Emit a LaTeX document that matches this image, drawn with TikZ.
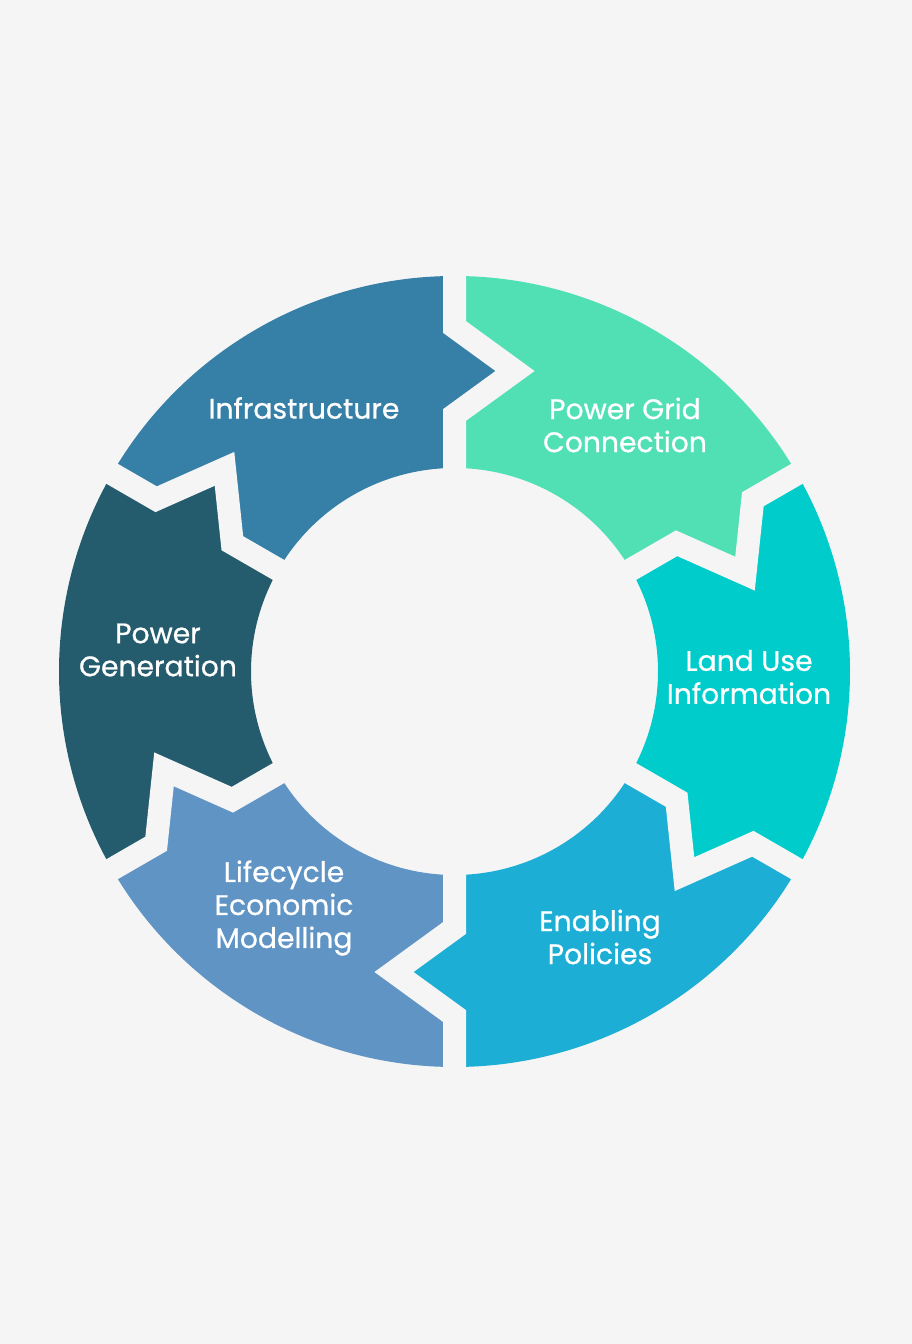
\documentclass[tikz,border=0pt]{standalone}
\usepackage{fontspec}
\setmainfont{Poppins}
\newfontfamily\lblfont{Poppins}[FakeBold=0.7]
\usetikzlibrary{calc}
\definecolor{bg}{HTML}{F5F5F5}
\definecolor{cInfra}{HTML}{367FA6}
\definecolor{cGrid}{HTML}{50E0B4}
\definecolor{cLand}{HTML}{00CCCC}
\definecolor{cEnab}{HTML}{1CAED4}
\definecolor{cLife}{HTML}{5F94C4}
\definecolor{cPGen}{HTML}{245C6E}
\tikzset{
  gap/.style={draw=bg, line width=23pt, line join=miter},
  lbl/.style={text=white, align=center, font=\lblfont\fontsize{28.2}{33}\selectfont, inner sep=0pt}
}
\newcommand\Ro{395.5}
\newcommand\Ri{203.5}
\newcommand\segpath[5]{% start name, end name, start angle, end angle, colour
  \fill[#5] (#1o) arc[start angle=#3, end angle=#4, radius=\Ro]
    -- (#2s) -- (#2t) -- (#2e) -- (#2i)
    arc[start angle=#4, end angle=#3, radius=\Ri]
    -- (#1e) -- (#1t) -- (#1s) -- cycle;}
\begin{document}
\begin{tikzpicture}[x=1pt,y=1pt]
\fill[bg] (0,0) rectangle (912,1344);
\useasboundingbox (0,0) rectangle (912,1344);
\coordinate (C) at (454.5,672.5);
\foreach \a/\n in {90/a,30/b,-30/c,-90/d,-150/e,150/f}{
  \coordinate (\n o) at ($(C)+(\a:\Ro)$);
  \coordinate (\n O) at ($(C)+(\a:\Ro+8)$);
  \coordinate (\n s) at ($(C)+(\a:344.5)$);
  \coordinate (\n t) at ($(C)+(\a:300.5)+(\a-90:60.5)$);
  \coordinate (\n e) at ($(C)+(\a:256.5)$);
  \coordinate (\n i) at ($(C)+(\a:\Ri)$);
  \coordinate (\n I) at ($(C)+(\a:\Ri-8)$);
}
\segpath{f}{a}{150}{90}{cInfra}
\segpath{a}{b}{90}{30}{cGrid}
\segpath{b}{c}{30}{-30}{cLand}
\segpath{c}{d}{-30}{-90}{cEnab}
\segpath{d}{e}{-90}{-150}{cLife}
\segpath{e}{f}{210}{150}{cPGen}
\foreach \n in {a,b,c,d,e,f}{
  \draw[gap] (\n O) -- (\n s) -- (\n t) -- (\n e) -- (\n I);
}
\node[lbl] (infra) at (304,936) {Infrastructure};
\node[lbl] (grid) at (625,919) {Power Grid\\Connection};
\node[lbl] (land) at (749,667) {Land Use\\Information};
\node[lbl] (enab) at (600,407) {Enabling\\Policies};
\node[lbl] (life) at (284,436) {Lifecycle\\Economic\\Modelling};
\node[lbl] (pgen) at (158,694) {Power\\Generation};
\end{tikzpicture}
\end{document}
